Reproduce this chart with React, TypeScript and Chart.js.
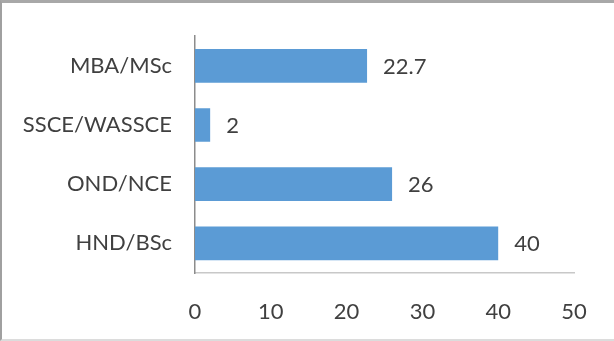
import React, { useEffect, useRef } from "react";
import { Chart, registerables } from "chart.js";

Chart.register(...registerables);

const categories = ["MBA/MSc", "SSCE/WASSCE", "OND/NCE", "HND/BSc"];
const values = [22.7, 2, 26, 40];
const valueLabels = ["22.7", "2", "26", "40"];
const xTicks = [0, 10, 20, 30, 40, 50];

const FONT = "Lato, 'Liberation Sans', sans-serif";
const TEXT = "#404040";

const dataLabelPlugin = {
  id: "dataLabels",
  afterDatasetsDraw(chart: any) {
    const ctx = chart.ctx;
    const meta = chart.getDatasetMeta(0);
    ctx.save();
    ctx.font = `22px ${FONT}`;
    ctx.fillStyle = TEXT;
    ctx.textAlign = "left";
    ctx.textBaseline = "middle";
    meta.data.forEach((bar: any, i: number) => {
      ctx.fillText(valueLabels[i], bar.x + 16, bar.y + 1);
    });
    ctx.restore();
  },
};

export default function App() {
  const ref = useRef<HTMLCanvasElement | null>(null);
  useEffect(() => {
    if (!ref.current) return;
    const chart = new Chart(ref.current, {
      type: "bar",
      data: {
        labels: categories,
        datasets: [
          {
            data: values,
            backgroundColor: "#5b9bd5",
            borderWidth: 0,
            barPercentage: 0.57,
            categoryPercentage: 1,
          },
        ],
      },
      options: {
        indexAxis: "y",
        animation: false,
        responsive: false,
        maintainAspectRatio: false,
        events: [],
        layout: { padding: { top: 31, right: 40, left: 0, bottom: 0 } },
        plugins: {
          legend: { display: false },
          tooltip: { enabled: false },
          title: { display: false },
        },
        scales: {
          x: {
            type: "linear",
            min: 0,
            max: 50,
            afterBuildTicks: (scale: any) => {
              scale.ticks = xTicks.map((v) => ({ value: v }));
            },
            afterFit: (scale: any) => {
              scale.height = 68;
            },
            grid: { display: false, drawTicks: false },
            border: { display: true, color: "#c8c8c8", width: 1.5 },
            ticks: {
              padding: 26,
              color: TEXT,
              font: { family: FONT, size: 22 },
            },
          },
          y: {
            afterFit: (scale: any) => {
              scale.width = 195;
            },
            grid: { display: false, drawTicks: false },
            border: { display: true, color: "#8c8c8c", width: 1.5 },
            ticks: {
              padding: 23,
              color: TEXT,
              font: { family: FONT, size: 22 },
            },
          },
        },
      },
      plugins: [dataLabelPlugin],
    });
    return () => chart.destroy();
  }, []);
  return (
    <div
      style={{
        position: "absolute",
        left: 0,
        top: 0,
        width: 614,
        height: 341,
        background: "#fff",
        boxSizing: "border-box",
        borderTop: "3px solid #a8a8a8",
        borderLeft: "2px solid #a0a0a0",
        borderBottom: "2px solid #dcdcdc",
        overflow: "hidden",
      }}
    >
      <canvas
        ref={ref}
        width={614}
        height={341}
        style={{ position: "absolute", left: -2, top: -3, width: 614, height: 341 }}
      />
    </div>
  );
}
